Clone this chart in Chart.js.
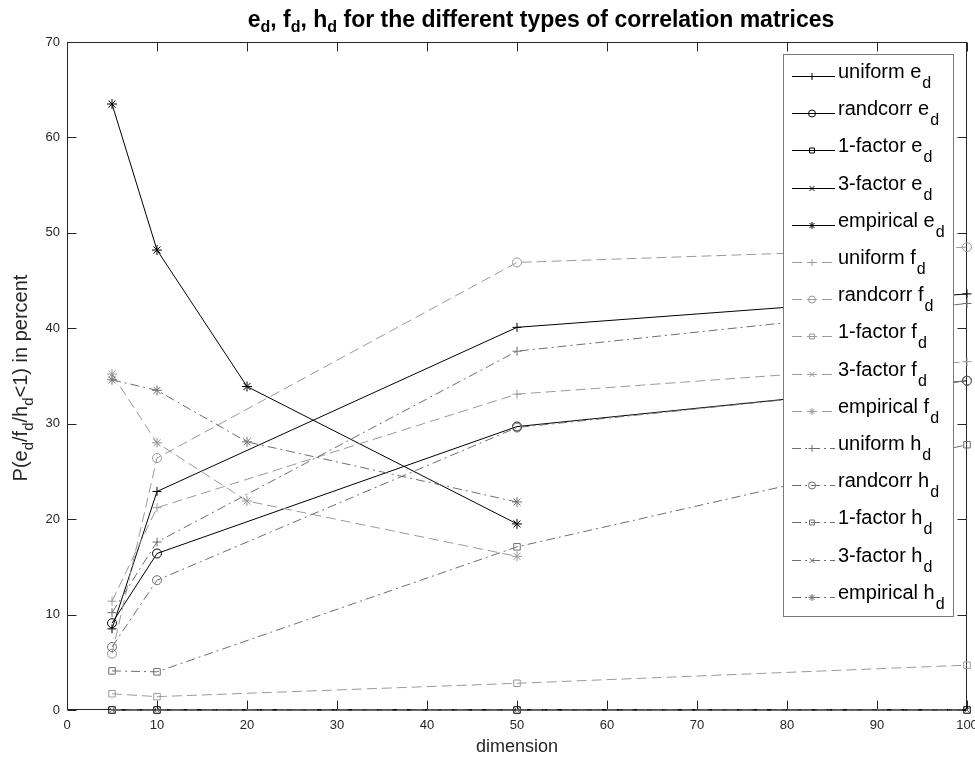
<!DOCTYPE html>
<html><head><meta charset="utf-8">
<script src="https://cdn.jsdelivr.net/npm/chart.js@4/dist/chart.umd.min.js"></script>
<style>html,body{margin:0;padding:0;background:#fff}#wrap{width:975px;height:764px;position:relative}canvas{display:block}</style>
</head><body><div id="wrap"><canvas id="c" width="975" height="764"></canvas></div>
<script>
// ---- data ----
const dims = [5, 10, 50, 100];
const dimsEmpirical = [5, 10, 20, 50];
const matrixTypes = ['uniform', 'randcorr', '1-factor', '3-factor', 'empirical'];
const measures = ['e', 'f', 'h'];

const uniformE     = [8.5, 22.9, 40.1, 43.6];
const randcorrE    = [9.1, 16.4, 29.7, 34.5];
const oneFactorE   = [0, 0, 0, 0];
const threeFactorE = [0, 0, 0, 0];
const empiricalE   = [63.5, 48.2, 33.9, 19.5];

const uniformF     = [11.4, 21.2, 33.1, 36.5];
const randcorrF    = [5.9, 26.4, 46.9, 48.5];
const oneFactorF   = [1.7, 1.4, 2.8, 4.7];
const threeFactorF = [0, 0, 0, 0];
const empiricalF   = [35.2, 28.0, 21.9, 16.1];

const uniformH     = [10.2, 17.6, 37.6, 42.6];
const randcorrH    = [6.6, 13.6, 29.6, 34.5];
const oneFactorH   = [4.1, 4.0, 17.1, 27.8];
const threeFactorH = [0, 0, 0, 0];
const empiricalH   = [34.6, 33.5, 28.1, 21.8];

const xTickValues = [0, 10, 20, 30, 40, 50, 60, 70, 80, 90, 100];
const yTickValues = [0, 10, 20, 30, 40, 50, 60, 70];

const titleText = [['e',0],['d',1],[', ',0],['f',0],['d',1],[', ',0],['h',0],['d',1],[' for the different types of correlation matrices',0]];
const yLabelText = [['P(e',0],['d',1],['/f',0],['d',1],['/h',0],['d',1],['<1) in percent',0]];
const xLabelText = 'dimension';

// ---- styling ----
const seriesValues = {
  e: [uniformE, randcorrE, oneFactorE, threeFactorE, empiricalE],
  f: [uniformF, randcorrF, oneFactorF, threeFactorF, empiricalF],
  h: [uniformH, randcorrH, oneFactorH, threeFactorH, empiricalH]
};
const measureStyle = {
  e: {color: '#000000', dash: [], order: 2},
  f: {color: '#9a9a9a', dash: [10, 5], order: 1},
  h: {color: '#6e6e6e', dash: [9, 4, 2, 4], order: 0}
};
const markerStyle = ['cross', 'circle', 'rect', 'crossRot', 'star'];
const markerRadius = [4.5, 4.5, 4.6, 4, 5];
const FONT = "'Liberation Sans', Arial, Helvetica, sans-serif";

const datasets = [];
const legendItems = [];
measures.forEach(m => {
  matrixTypes.forEach((t, i) => {
    const xs = t === 'empirical' ? dimsEmpirical : dims;
    const vals = seriesValues[m][i];
    const st = measureStyle[m];
    datasets.push({
      label: t + ' ' + m + '_d',
      data: xs.map((x, k) => ({x: x, y: vals[k]})),
      borderColor: st.color,
      borderWidth: 1,
      borderDash: st.dash,
      pointStyle: markerStyle[i],
      pointRadius: markerRadius[i],
      pointBorderColor: st.color,
      pointBackgroundColor: 'rgba(0,0,0,0)',
      pointBorderWidth: 1,
      fill: false,
      tension: 0,
      clip: false,
      order: st.order
    });
    legendItems.push({type: t, m: m, color: st.color, dash: st.dash, style: markerStyle[i]});
  });
});

function drawRich(ctx, segs, x, y, align, mainFont, subFont, subDy, subGap) {
  const gap = subGap || 0;
  let w = 0;
  segs.forEach(s => { ctx.font = s[1] ? subFont : mainFont; w += ctx.measureText(s[0]).width + (s[1] ? gap : 0); });
  let cx = align === 'center' ? x - w / 2 : x;
  ctx.textAlign = 'left';
  ctx.textBaseline = 'alphabetic';
  segs.forEach(s => {
    ctx.font = s[1] ? subFont : mainFont;
    if (s[1]) cx += gap;
    ctx.fillText(s[0], cx, y + (s[1] ? subDy : 0));
    cx += ctx.measureText(s[0]).width;
  });
}

function drawMarker(ctx, style, r, x, y) {
  if (Chart.helpers && Chart.helpers.drawPoint) {
    Chart.helpers.drawPoint(ctx, {pointStyle: style, radius: r, borderWidth: 1, rotation: 0}, x, y);
    return;
  }
  ctx.beginPath();
  if (style === 'circle') ctx.arc(x, y, r, 0, Math.PI * 2);
  else if (style === 'rect') ctx.rect(x - r * 0.707, y - r * 0.707, r * 1.414, r * 1.414);
  else {
    if (style === 'cross' || style === 'star') { ctx.moveTo(x - r, y); ctx.lineTo(x + r, y); ctx.moveTo(x, y - r); ctx.lineTo(x, y + r); }
    if (style === 'crossRot' || style === 'star') { const d = r * 0.707; ctx.moveTo(x - d, y - d); ctx.lineTo(x + d, y + d); ctx.moveTo(x - d, y + d); ctx.lineTo(x + d, y - d); }
  }
  ctx.stroke();
}

const framePlugin = {
  id: 'frame',
  beforeDatasetsDraw(chart) {
    const {ctx, chartArea: a, scales: {x, y}} = chart;
    ctx.save();
    ctx.strokeStyle = '#262626';
    ctx.lineWidth = 1;
    const L = Math.round(a.left) + 0.5, R = Math.round(a.right) - 0.5, T = Math.round(a.top) + 0.5, B = Math.round(a.bottom) - 0.5;
    ctx.strokeRect(L, T, R - L, B - T);
    ctx.beginPath();
    x.ticks.forEach(t => {
      const px = Math.round(x.getPixelForValue(t.value)) + 0.5;
      ctx.moveTo(px, B); ctx.lineTo(px, B - 9);
      ctx.moveTo(px, T); ctx.lineTo(px, T + 9);
    });
    y.ticks.forEach(t => {
      const py = Math.round(y.getPixelForValue(t.value)) + 0.5;
      ctx.moveTo(L, py); ctx.lineTo(L + 9, py);
      ctx.moveTo(R, py); ctx.lineTo(R - 9, py);
    });
    ctx.stroke();
    ctx.restore();
  },
  afterDraw(chart) {
    const {ctx, chartArea: a} = chart;
    ctx.save();
    // title
    ctx.fillStyle = '#000';
    drawRich(ctx, titleText, 541, 27, 'center', 'bold 23px ' + FONT, 'bold 16px ' + FONT, 5);
    // x label
    ctx.fillStyle = '#262626';
    drawRich(ctx, [[xLabelText, 0]], (a.left + a.right) / 2, 752, 'center', '18px ' + FONT, '14px ' + FONT, 6);
    // y label
    ctx.save();
    ctx.translate(27, 378);
    ctx.rotate(-Math.PI / 2);
    drawRich(ctx, yLabelText, 0, 0, 'center', '20px ' + FONT, '15px ' + FONT, 6);
    ctx.restore();
    // legend
    const bx = 783.5, by = 54.5, bw = 170, bh = 562;
    ctx.fillStyle = '#fff';
    ctx.fillRect(bx, by, bw, bh);
    ctx.strokeStyle = '#7a7a7a';
    ctx.lineWidth = 1;
    ctx.strokeRect(bx, by, bw, bh);
    legendItems.forEach((it, i) => {
      const ry = Math.round(76 + i * 37.2) + 0.5;
      ctx.save();
      ctx.strokeStyle = it.color;
      ctx.lineWidth = 1;
      ctx.setLineDash(it.dash);
      ctx.beginPath(); ctx.moveTo(792, ry); ctx.lineTo(835, ry); ctx.stroke();
      ctx.setLineDash([]);
      ctx.fillStyle = 'rgba(0,0,0,0)';
      drawMarker(ctx, it.style, 3.5, 812, ry);
      ctx.restore();
      ctx.fillStyle = '#000';
      drawRich(ctx, [[it.type + ' ' + it.m, 0], ['d', 1]], 838, ry + 1, 'left', '20px ' + FONT, '16px ' + FONT, 10, 1);
    });
    ctx.restore();
  }
};

new Chart(document.getElementById('c'), {
  type: 'line',
  data: {datasets: datasets},
  options: {
    responsive: false,
    animation: false,
    devicePixelRatio: 1,
    layout: {padding: {left: 0, top: 42, right: 8, bottom: 0}},
    plugins: {legend: {display: false}, title: {display: false}, tooltip: {enabled: false}},
    scales: {
      x: {
        type: 'linear', min: 0, max: 100,
        grid: {display: false, drawTicks: false},
        border: {display: false},
        afterBuildTicks(s) { s.ticks = xTickValues.map(v => ({value: v})); },
        ticks: {color: '#262626', font: {family: FONT, size: 13}, padding: 8, maxRotation: 0, autoSkip: false},
        afterFit(s) { s.height = 54; s.paddingLeft = 0; s.paddingRight = 0; }
      },
      y: {
        type: 'linear', min: 0, max: 70,
        grid: {display: false, drawTicks: false},
        border: {display: false},
        afterBuildTicks(s) { s.ticks = yTickValues.map(v => ({value: v})); },
        ticks: {color: '#262626', font: {family: FONT, size: 13}, padding: 7},
        afterFit(s) { s.width = 67; s.paddingTop = 0; s.paddingBottom = 0; }
      }
    }
  },
  plugins: [framePlugin]
});
</script>
</body></html>
